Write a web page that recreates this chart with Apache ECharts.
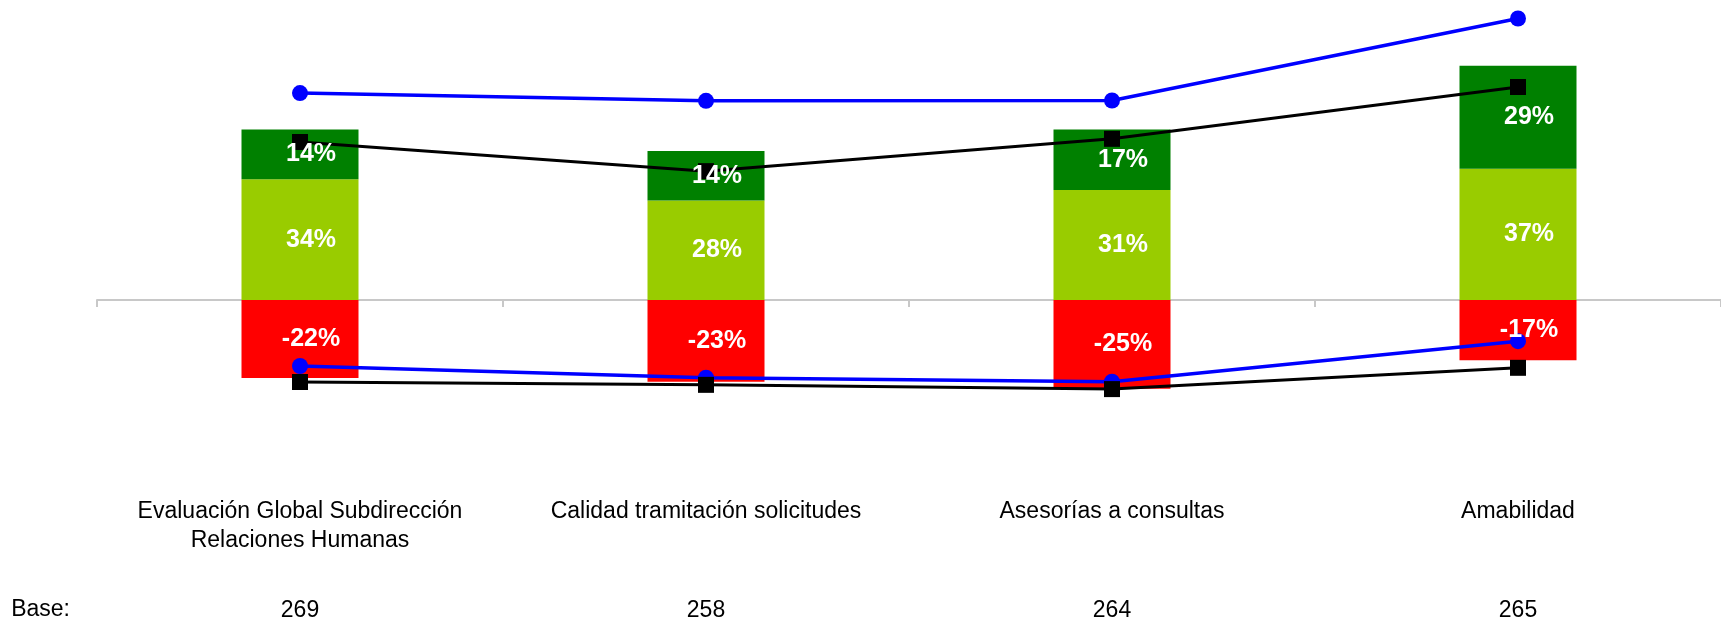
<!DOCTYPE html>
<html>
<head>
<meta charset="utf-8">
<script src="https://cdn.jsdelivr.net/npm/echarts@6/dist/echarts.min.js"></script>
<style>
html,body{margin:0;padding:0;background:#fff;}
#chart{width:1721px;height:622px;}
</style>
</head>
<body>
<div id="chart"></div>
<script>
// ---- Data ----
const categories = ['Evaluación Global Subdirección\nRelaciones Humanas', 'Calidad tramitación solicitudes', 'Asesorías a consultas', 'Amabilidad'];
const bases = ['269', '258', '264', '265'];
const negative = [-22, -23, -25, -17];          // red
const satisfied = [34, 28, 31, 37];             // light green
const verySatisfied = [14, 14, 17, 29];         // dark green
const blueUpper = [58.3, 56.1, 56.2, 79.3];
const blackUpper = [44.5, 36.3, 45.4, 60.0];
const blueLower = [-18.6, -21.9, -23.0, -11.6];
const blackLower = [-23.1, -23.9, -25.1, -19.1];

const FONT = '"Liberation Sans", Arial, sans-serif';
const chart = echarts.init(document.getElementById('chart'));

const barLabel = {
  show: true, position: 'inside', offset: [11, 0],
  color: '#ffffff', fontWeight: 'bold', fontSize: 25, fontFamily: FONT,
  formatter: p => p.value + '%'
};
// visible bars (no labels)
function barSeries(name, data, color) {
  return {
    name, type: 'bar', stack: 'total', data, barWidth: 117,
    xAxisIndex: 0, yAxisIndex: 0, z: 2,
    itemStyle: { color }, label: { show: false }
  };
}
// transparent overlay bars carrying the labels above the lines
function labelSeries(name, data) {
  return {
    name: name + ' (etiqueta)', type: 'bar', stack: 'labels', data, barWidth: 117, barGap: '-100%',
    xAxisIndex: 0, yAxisIndex: 0, z: 5, silent: true,
    itemStyle: { color: 'rgba(0,0,0,0)' }, label: barLabel
  };
}
function lineSeries(name, data, color, symbol, width) {
  return {
    name, type: 'line', data, xAxisIndex: 0, yAxisIndex: 0, z: 3,
    symbol, symbolSize: 16, showSymbol: true,
    lineStyle: { color, width }, itemStyle: { color },
    label: { show: false }
  };
}

chart.setOption({
  animation: false,
  backgroundColor: '#ffffff',
  grid: { left: 97, right: -4, top: 16, bottom: 178, containLabel: false },
  xAxis: [
    {
      type: 'category', data: categories, position: 'bottom',
      axisLine: { show: true, onZero: true, lineStyle: { color: '#c8c8c8', width: 2 } },
      axisTick: { show: true, length: 7, lineStyle: { color: '#c8c8c8', width: 2 } },
      axisLabel: { show: false }, splitLine: { show: false }
    },
    {
      type: 'category', data: categories, position: 'bottom',
      axisLine: { show: false, onZero: false }, axisTick: { show: false },
      axisLabel: { show: true, interval: 0, margin: 55, fontSize: 23, lineHeight: 29, color: '#000', fontFamily: FONT }
    },
    {
      type: 'category', data: bases, position: 'bottom', offset: 168,
      axisLine: { show: false, onZero: false }, axisTick: { show: false },
      axisLabel: { show: true, interval: 0, margin: -11, fontSize: 23, lineHeight: 23, color: '#000', fontFamily: FONT },
      name: 'Base:', nameLocation: 'start', nameGap: 27,
      nameTextStyle: { fontSize: 23, color: '#000', fontFamily: FONT }
    }
  ],
  yAxis: {
    type: 'value', min: -40, max: 80, show: false,
    splitLine: { show: false }
  },
  series: [
    barSeries('Insatisfecho', negative, '#ff0000'),
    barSeries('Satisfecho', satisfied, '#99cc00'),
    barSeries('Muy satisfecho', verySatisfied, '#008000'),
    lineSeries('Superior azul', blueUpper, '#0000ff', 'circle', 3.5),
    lineSeries('Superior negro', blackUpper, '#000000', 'rect', 3),
    lineSeries('Inferior azul', blueLower, '#0000ff', 'circle', 3.5),
    lineSeries('Inferior negro', blackLower, '#000000', 'rect', 3),
    labelSeries('Insatisfecho', negative),
    labelSeries('Satisfecho', satisfied),
    labelSeries('Muy satisfecho', verySatisfied)
  ]
});
</script>
</body>
</html>
